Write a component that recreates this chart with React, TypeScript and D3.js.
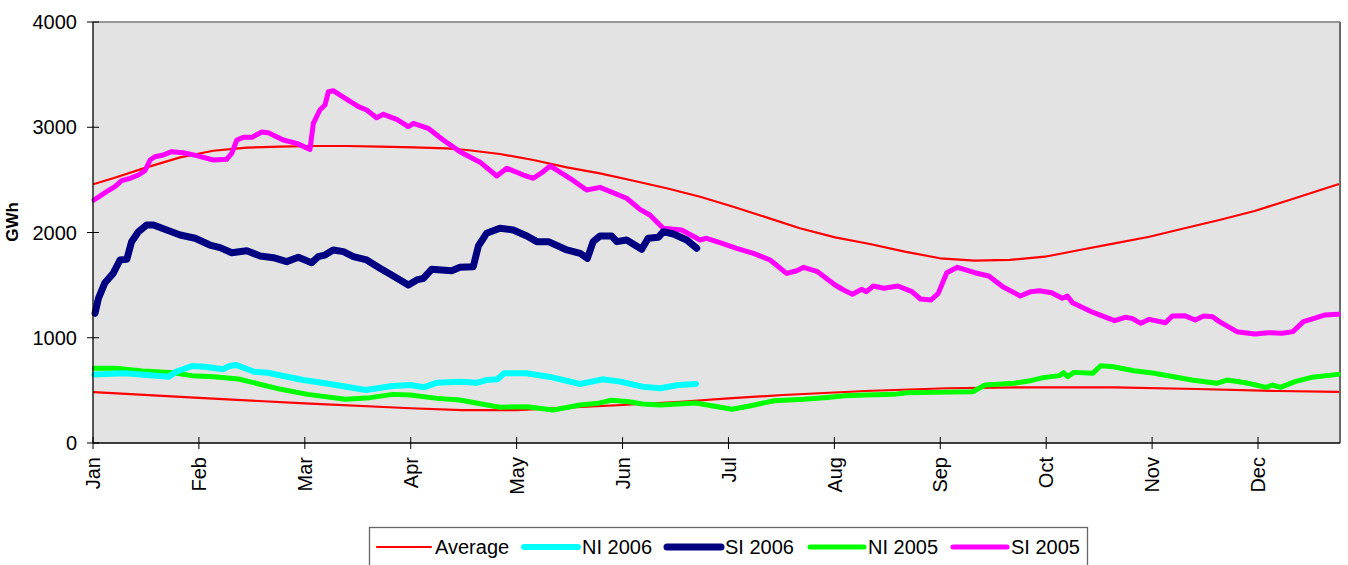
import React from "react";
import * as d3 from "d3";

const months = ["Jan", "Feb", "Mar", "Apr", "May", "Jun", "Jul", "Aug", "Sep", "Oct", "Nov", "Dec"];
const yTicks = [0, 1000, 2000, 3000, 4000];

const avgSIDays = [0.3, 5.9, 15.7, 25.5, 35.2, 45.0, 54.7, 64.4, 74.3, 84.0, 93.8, 103.5, 109.4, 119.1, 128.9, 138.7, 148.4, 158.2, 167.9, 177.7, 187.4, 197.1, 206.9, 217.2, 227.4, 237.6, 247.9, 258.1, 268.3, 278.6, 288.8, 299.0, 309.2, 319.5, 329.7, 340.0, 350.2, 364.5];
const avgSIValues = [2461, 2515, 2619, 2714, 2777, 2806, 2815, 2822, 2822, 2815, 2809, 2800, 2784, 2746, 2689, 2619, 2562, 2492, 2420, 2340, 2245, 2144, 2040, 1954, 1891, 1818, 1755, 1732, 1739, 1770, 1834, 1897, 1960, 2040, 2119, 2204, 2309, 2458];

const avgNIDays = [0.3, 31, 62, 93, 108, 124, 140, 155, 172, 186, 202, 226, 250, 274, 299, 323, 347, 364.5];
const avgNIValues = [484, 428, 377, 330, 313, 313, 339, 361, 392, 424, 456, 494, 520, 529, 529, 513, 494, 485];

const ni2006Days = [0.4, 9.2, 22.3, 24.3, 28.9, 32.8, 38.0, 40.0, 41.9, 47.2, 51.1, 61.5, 69.4, 79.8, 87.7, 92.9, 96.8, 100.7, 107.3, 112.5, 115.1, 118.4, 120.3, 126.9, 133.4, 142.6, 149.1, 154.3, 160.8, 166.1, 171.3, 176.5];
const ni2006Values = [652, 662, 630, 677, 731, 725, 700, 731, 741, 677, 668, 598, 561, 504, 542, 551, 529, 573, 583, 573, 598, 605, 662, 662, 630, 561, 605, 583, 535, 520, 551, 561];

const si2006Days = [0.6, 1.6, 3.5, 5.9, 7.9, 9.9, 11.3, 13.3, 15.7, 17.7, 21.6, 25.5, 29.9, 34.2, 37.2, 40.6, 45.0, 48.9, 52.8, 56.7, 60.1, 64.0, 65.9, 67.9, 70.3, 73.3, 76.2, 80.1, 84.0, 87.9, 92.3, 94.8, 96.7, 99.1, 105.0, 107.4, 111.3, 112.8, 115.2, 119.1, 123.0, 127.0, 129.9, 133.3, 138.7, 142.6, 144.7, 146.4, 148.4, 151.8, 153.3, 156.2, 160.6, 162.5, 165.5, 166.9, 169.9, 173.8, 176.7];
const si2006Values = [1232, 1375, 1523, 1612, 1739, 1745, 1913, 2008, 2071, 2071, 2024, 1976, 1945, 1881, 1856, 1808, 1827, 1777, 1761, 1723, 1764, 1713, 1770, 1786, 1834, 1818, 1770, 1739, 1660, 1587, 1501, 1549, 1565, 1650, 1637, 1669, 1675, 1872, 1992, 2040, 2024, 1967, 1913, 1913, 1834, 1802, 1754, 1913, 1967, 1967, 1913, 1929, 1840, 1945, 1954, 2008, 1986, 1929, 1850];

const ni2005Days = [0.4, 6.6, 14.5, 23.6, 28.9, 35.4, 42.6, 48.5, 55.0, 62.8, 73.9, 81.1, 87.7, 92.9, 100.7, 107.3, 119.0, 126.9, 134.7, 142.6, 147.8, 151.7, 156.9, 160.8, 166.1, 176.5, 187.0, 192.2, 199.4, 207.9, 214.0, 220.0, 226.1, 234.5, 238.1, 245.4, 257.5, 261.1, 269.6, 274.4, 278.1, 282.9, 284.1, 285.3, 287.1, 292.6, 295.0, 298.6, 304.7, 310.7, 321.6, 328.9, 331.9, 337.4, 343.4, 345.2, 347.6, 351.8, 356.7, 364.5];
const ni2005Values = [710, 710, 684, 668, 640, 630, 608, 561, 510, 462, 415, 431, 462, 456, 424, 408, 339, 345, 313, 361, 377, 406, 392, 371, 361, 380, 320, 352, 402, 415, 431, 450, 456, 462, 478, 481, 487, 551, 567, 592, 621, 640, 668, 630, 671, 662, 735, 725, 687, 662, 598, 567, 598, 573, 529, 551, 529, 583, 624, 652];

const si2005Days = [0.3, 4.0, 6.4, 8.4, 10.8, 13.3, 15.2, 16.7, 18.1, 20.6, 23.0, 26.4, 30.4, 35.2, 39.1, 40.6, 42.1, 44.0, 46.5, 49.4, 51.3, 55.7, 59.6, 63.5, 64.5, 66.4, 67.9, 68.9, 70.3, 74.3, 77.7, 80.1, 83.0, 85.0, 88.9, 92.3, 93.8, 98.1, 102.5, 107.4, 113.3, 118.2, 121.1, 126.0, 128.9, 131.8, 133.8, 139.6, 144.5, 148.4, 156.2, 160.1, 163.0, 166.9, 172.3, 177.7, 179.6, 183.5, 188.4, 193.3, 198.2, 203.0, 206.0, 208.0, 212.1, 217.2, 219.7, 222.3, 224.9, 226.4, 228.4, 231.5, 235.6, 239.7, 242.2, 245.3, 247.4, 249.9, 253.0, 258.1, 262.2, 266.3, 271.4, 274.5, 277.0, 280.6, 283.7, 285.2, 286.7, 292.9, 299.0, 302.1, 304.1, 306.7, 309.2, 313.9, 315.9, 319.5, 322.6, 325.1, 327.7, 329.7, 334.8, 340.0, 344.1, 348.1, 351.2, 354.3, 357.4, 360.4, 364.5];
const si2005Values = [2309, 2388, 2435, 2492, 2515, 2546, 2587, 2689, 2720, 2736, 2768, 2758, 2730, 2689, 2695, 2752, 2879, 2904, 2904, 2955, 2948, 2879, 2847, 2790, 3037, 3164, 3211, 3338, 3347, 3266, 3196, 3164, 3091, 3123, 3075, 3005, 3037, 2990, 2879, 2768, 2668, 2537, 2610, 2546, 2515, 2578, 2632, 2515, 2404, 2429, 2325, 2220, 2166, 2040, 2024, 1929, 1945, 1903, 1850, 1802, 1739, 1612, 1637, 1669, 1628, 1501, 1454, 1413, 1460, 1438, 1492, 1470, 1492, 1438, 1368, 1359, 1422, 1618, 1669, 1618, 1587, 1485, 1397, 1438, 1447, 1428, 1375, 1397, 1333, 1238, 1162, 1194, 1184, 1137, 1175, 1143, 1206, 1210, 1169, 1206, 1200, 1153, 1058, 1036, 1048, 1042, 1058, 1153, 1184, 1216, 1223];

const W = 1348;
const H = 565;
const left = 93;
const right = 1340;
const top = 22;
const bottom = 443;
const FONT = "'Liberation Sans', Arial, sans-serif";

const series = [
  { name: "Average", days: avgSIDays, values: avgSIValues, color: "#FF0000", width: 2.2 },
  { name: "Average", days: avgNIDays, values: avgNIValues, color: "#FF0000", width: 2.2 },
  { name: "NI 2005", days: ni2005Days, values: ni2005Values, color: "#00FF00", width: 5 },
  { name: "NI 2006", days: ni2006Days, values: ni2006Values, color: "#00FFFF", width: 6 },
  { name: "SI 2005", days: si2005Days, values: si2005Values, color: "#FF00FF", width: 5 },
  { name: "SI 2006", days: si2006Days, values: si2006Values, color: "#000080", width: 7 },
];

const legendItems = [
  { name: "Average", color: "#FF0000", width: 2.2, x: 377 },
  { name: "NI 2006", color: "#00FFFF", width: 6, x: 524 },
  { name: "SI 2006", color: "#000080", width: 7, x: 667 },
  { name: "NI 2005", color: "#00FF00", width: 5, x: 810 },
  { name: "SI 2005", color: "#FF00FF", width: 5, x: 953 },
];

export default function App() {
  const x = d3.scaleLinear().domain([0, 365]).range([left, right]);
  const y = d3.scaleLinear().domain([0, 4000]).range([bottom, top]);
  const line = d3
    .line<[number, number]>()
    .x((d) => x(d[0]))
    .y((d) => y(d[1]))
    .curve(d3.curveLinear);
  const monthTicks = months.map((m, i) => ({ m, d: i * 31 }));

  return (
    <svg width={W} height={H} style={{ position: "absolute", left: 0, top: 0, background: "#fff" }} fontFamily={FONT}>
      <rect x={left} y={top} width={right - left} height={bottom - top} fill="#E3E3E3" />
      <line x1={left} x2={right} y1={top} y2={top} stroke="#7a7a7a" strokeWidth={1.5} />
      <line x1={right} x2={right} y1={top} y2={bottom} stroke="#6a6a6a" strokeWidth={2} />
      <g>
        {series.map((s, i) => (
          <path
            key={i}
            d={line(s.days.map((d, j) => [d, s.values[j]] as [number, number])) || ""}
            fill="none"
            stroke={s.color}
            strokeWidth={s.width}
            strokeLinejoin="round"
            strokeLinecap="round"
          />
        ))}
      </g>
      <line x1={left} x2={left} y1={top} y2={bottom} stroke="#000" strokeWidth={1.3} />
      <line x1={left} x2={right} y1={bottom} y2={bottom} stroke="#000" strokeWidth={1.3} />
      {yTicks.map((t) => (
        <g key={t}>
          <line x1={left - 6} x2={left + 6} y1={y(t)} y2={y(t)} stroke="#000" strokeWidth={1} />
          <text x={77} y={y(t)} dy="0.36em" textAnchor="end" fontSize={20} fill="#000">
            {t}
          </text>
        </g>
      ))}
      {monthTicks.map((t) => (
        <g key={t.m}>
          <line x1={x(t.d)} x2={x(t.d)} y1={bottom - 6} y2={bottom + 6} stroke="#000" strokeWidth={1} />
          <text
            transform={`translate(${x(t.d)},${457}) rotate(-90)`}
            dy="0.36em"
            textAnchor="end"
            fontSize={20}
            fill="#000"
          >
            {t.m}
          </text>
        </g>
      ))}
      <text transform="translate(18,222) rotate(-90)" textAnchor="middle" fontSize={17} fontWeight="bold" fill="#000">
        GWh
      </text>
      <rect x={369.5} y={527.5} width={718} height={46} fill="#fff" stroke="#666" strokeWidth={1.3} />
      {legendItems.map((l) => (
        <g key={l.name}>
          <line x1={l.x} x2={l.x + 54} y1={547} y2={547} stroke={l.color} strokeWidth={l.width} strokeLinecap="round" />
          <text x={l.x + 58} y={554} fontSize={20} fill="#000">
            {l.name}
          </text>
        </g>
      ))}
    </svg>
  );
}
